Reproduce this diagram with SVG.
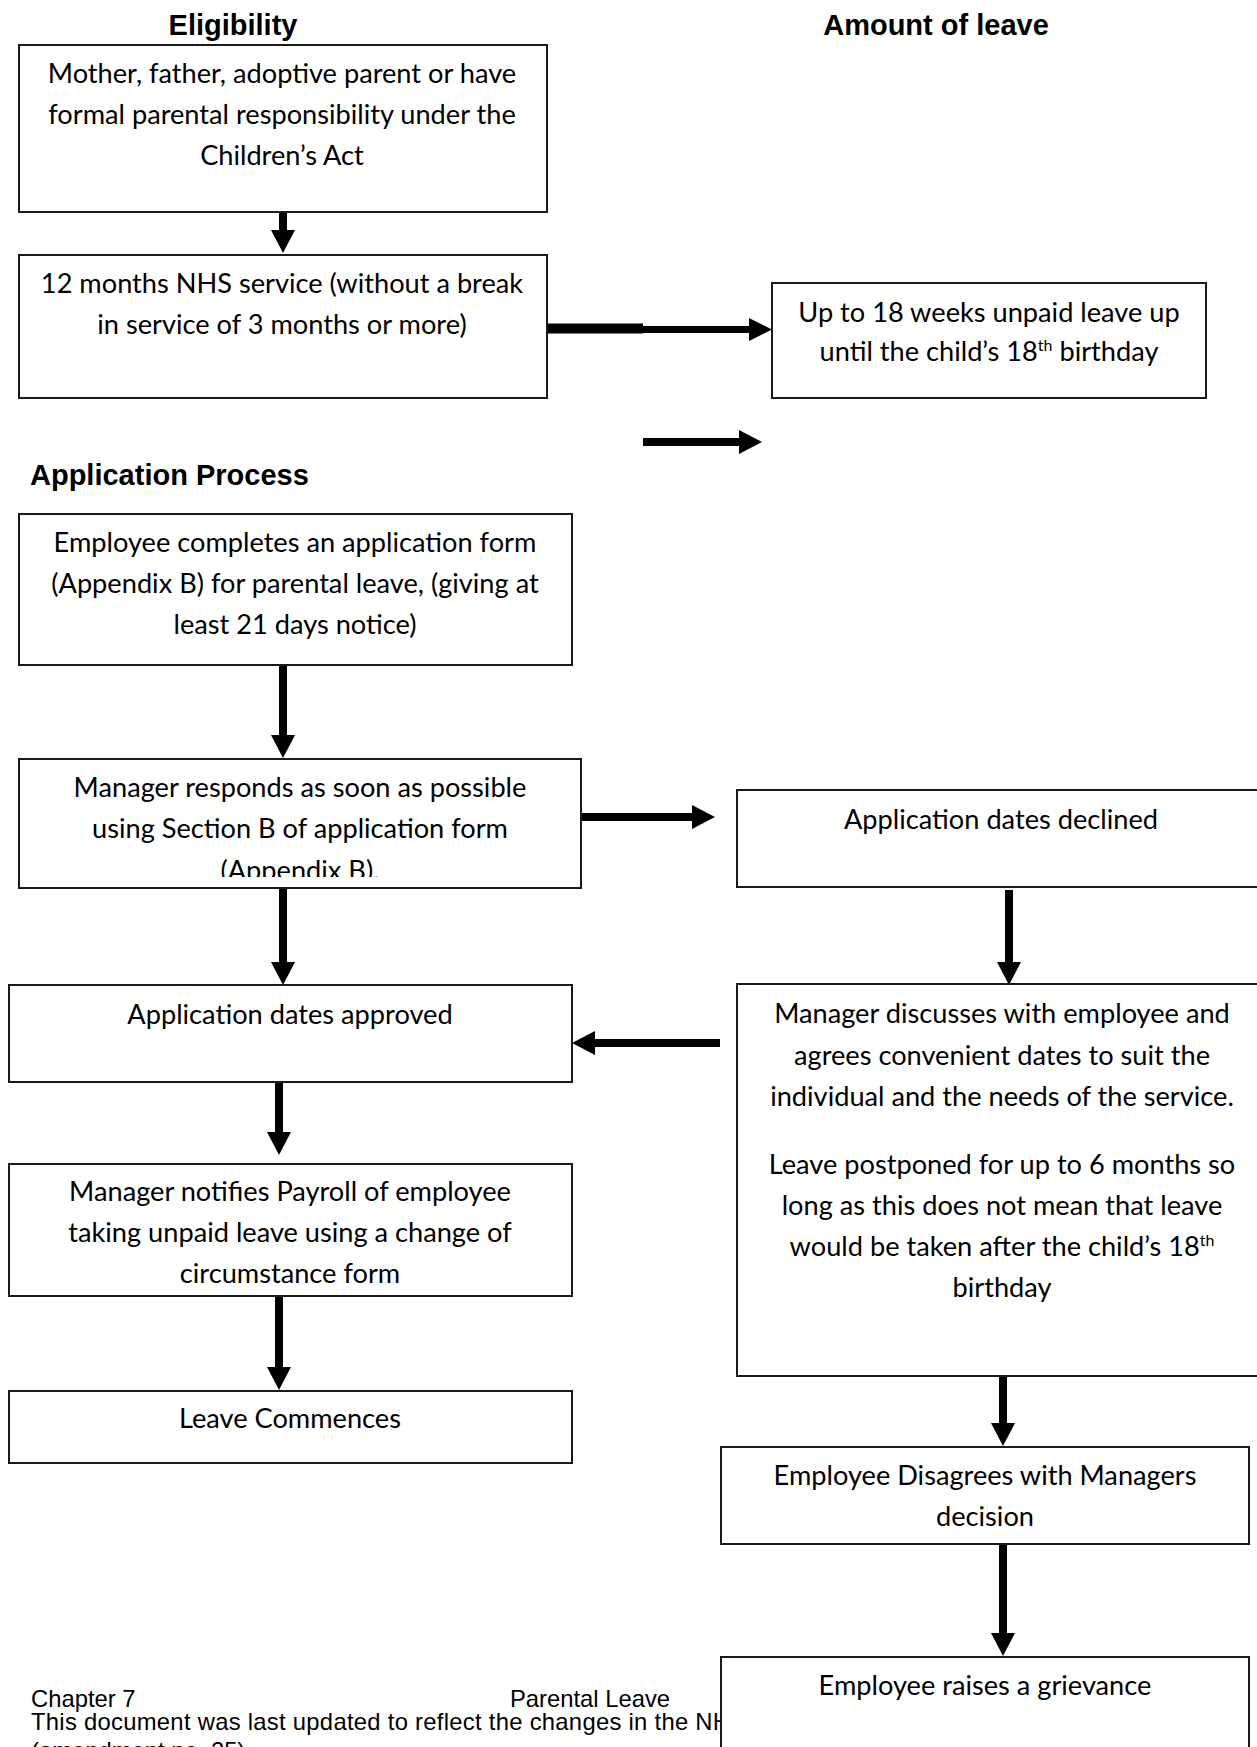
<svg xmlns="http://www.w3.org/2000/svg" width="1257" height="1747" viewBox="0 0 1257 1747">
<style>
.box{fill:#fff;stroke:#1a1a1a;stroke-width:2}
.t{font-family:Lato,"Liberation Sans",sans-serif;font-size:27.2px;text-anchor:middle;fill:#000}
.h{font-family:"Liberation Sans",Arial,sans-serif;font-weight:bold;font-size:29px;fill:#000}
.f{font-family:"Liberation Sans",Arial,sans-serif;font-size:23.8px;fill:#000}
.c{stroke:#000;stroke-width:8;fill:none}
.sup{font-size:16px}
</style>
<defs>
<marker id="ah" markerUnits="userSpaceOnUse" markerWidth="24" markerHeight="24" viewBox="0 0 23 24" refX="0" refY="12" orient="auto"><path d="M0,0 L23,12 L0,24 z" fill="#000"/></marker>
<clipPath id="clip5"><rect x="0" y="750" width="620" height="127"/></clipPath>
</defs>
<rect width="1257" height="1747" fill="#fff"/>

<g id="headings">
<text class="h" x="233" y="35" text-anchor="middle">Eligibility</text>
<text class="h" x="936" y="35" text-anchor="middle">Amount of leave</text>
<text class="h" x="30" y="485">Application Process</text>
</g>

<g id="footer">
<text class="f" x="31" y="1707">Chapter 7</text>
<text class="f" x="510" y="1707">Parental Leave</text>
<text class="f" x="31" y="1730" textLength="699">This document was last updated to reflect the changes in the NH</text>
<text class="f" x="31" y="1759">(amendment no. 25)</text>
</g>

<g id="connectors">
<line class="c" x1="283" y1="212" x2="283" y2="230"  marker-end="url(#ah)"/>
<rect x="547" y="323.5" width="96" height="10" fill="#000"/>
<line x1="643" y1="329.5" x2="749" y2="329.5" stroke="#000" stroke-width="7"/>
<polygon points="749,318 772,329.5 749,341" fill="#000"/>
<line class="c" x1="643" y1="442" x2="739" y2="442" marker-end="url(#ah)"/>
<line class="c" x1="283" y1="665" x2="283" y2="735" marker-end="url(#ah)"/>
<line class="c" x1="581" y1="817" x2="692" y2="817" marker-end="url(#ah)"/>
<line class="c" x1="283" y1="888" x2="283" y2="962" marker-end="url(#ah)"/>
<line class="c" x1="1009" y1="890" x2="1009" y2="962" marker-end="url(#ah)"/>
<line class="c" x1="720" y1="1043" x2="595" y2="1043" marker-end="url(#ah)"/>
<line class="c" x1="279" y1="1082" x2="279" y2="1132" marker-end="url(#ah)"/>
<line class="c" x1="279" y1="1296" x2="279" y2="1367" marker-end="url(#ah)"/>
<line class="c" x1="1003" y1="1376" x2="1003" y2="1423" marker-end="url(#ah)"/>
<line class="c" x1="1003" y1="1544" x2="1003" y2="1633" marker-end="url(#ah)"/>
</g>

<g id="n-parent">
<rect class="box" x="19" y="45" width="528" height="167"/>
<text class="t" x="282" y="83">Mother, father, adoptive parent or have</text>
<text class="t" x="282" y="124">formal parental responsibility under the</text>
<text class="t" x="282" y="165">Children’s Act</text>
</g>

<g id="n-service">
<rect class="box" x="19" y="255" width="528" height="143"/>
<text class="t" x="282" y="293">12 months NHS service (without a break</text>
<text class="t" x="282" y="334">in service of 3 months or more)</text>
</g>

<g id="n-amount">
<rect class="box" x="772" y="283" width="434" height="115"/>
<text class="t" x="989" y="322">Up to 18 weeks unpaid leave up</text>
<text class="t" x="989" y="361">until the child’s 18<tspan class="sup" dy="-10">th</tspan><tspan dy="10"> birthday</tspan></text>
</g>

<g id="n-apply">
<rect class="box" x="19" y="514" width="553" height="151"/>
<text class="t" x="295" y="552">Employee completes an application form</text>
<text class="t" x="295" y="593">(Appendix B) for parental leave, (giving at</text>
<text class="t" x="295" y="634">least 21 days notice)</text>
</g>

<g id="n-respond">
<rect class="box" x="19" y="759" width="562" height="129"/>
<text class="t" x="300" y="797">Manager responds as soon as possible</text>
<text class="t" x="300" y="838">using Section B of application form</text>
<text class="t" x="300" y="880" clip-path="url(#clip5)">(Appendix B).</text>
</g>

<g id="n-declined">
<rect class="box" x="737" y="790" width="530" height="97"/>
<text class="t" x="1001" y="829">Application dates declined</text>
</g>

<g id="n-discuss">
<rect class="box" x="737" y="984" width="530" height="392"/>
<text class="t" x="1002" y="1023">Manager discusses with employee and</text>
<text class="t" x="1002" y="1065">agrees convenient dates to suit the</text>
<text class="t" x="1002" y="1106">individual and the needs of the service.</text>
<text class="t" x="1002" y="1174">Leave postponed for up to 6 months so</text>
<text class="t" x="1002" y="1215">long as this does not mean that leave</text>
<text class="t" x="1002" y="1256">would be taken after the child’s 18<tspan class="sup" dy="-10">th</tspan></text>
<text class="t" x="1002" y="1297">birthday</text>
</g>

<g id="n-approved">
<rect class="box" x="9" y="985" width="563" height="97"/>
<text class="t" x="290" y="1024">Application dates approved</text>
</g>

<g id="n-notify">
<rect class="box" x="9" y="1164" width="563" height="132"/>
<text class="t" x="290" y="1201">Manager notifies Payroll of employee</text>
<text class="t" x="290" y="1242">taking unpaid leave using a change of</text>
<text class="t" x="290" y="1283">circumstance form</text>
</g>

<g id="n-leave">
<rect class="box" x="9" y="1391" width="563" height="72"/>
<text class="t" x="290" y="1428">Leave Commences</text>
</g>

<g id="n-disagree">
<rect class="box" x="721" y="1447" width="528" height="97"/>
<text class="t" x="985" y="1485">Employee Disagrees with Managers</text>
<text class="t" x="985" y="1526">decision</text>
</g>

<g id="n-grievance">
<rect class="box" x="721" y="1657" width="528" height="110"/>
<text class="t" x="985" y="1695">Employee raises a grievance</text>
</g>
</svg>
